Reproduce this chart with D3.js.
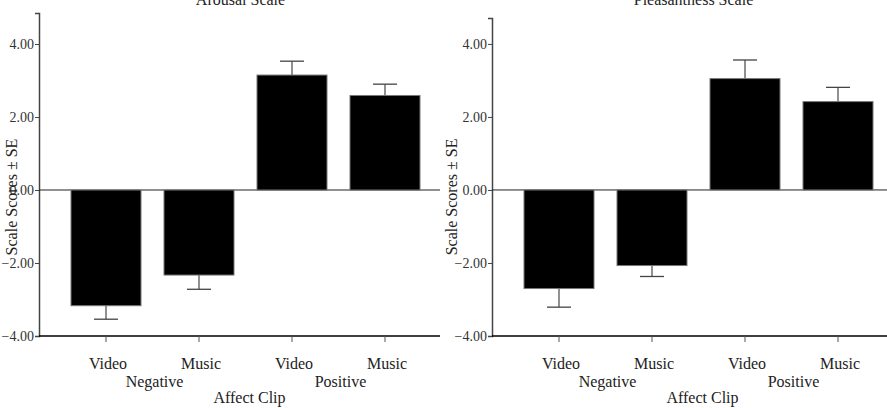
<!DOCTYPE html>
<html>
<head>
<meta charset="utf-8">
<script src="https://cdn.jsdelivr.net/npm/d3@7"></script>
<style>
  body { margin: 0; background: #fff; }
  svg { display: block; font-family: 'Liberation Serif', 'Times New Roman', serif; }
</style>
</head>
<body>
<svg id="chart" width="887" height="408"></svg>
<script>
// conditions, in plotting order
const conditions = ['Negative Video', 'Negative Music', 'Positive Video', 'Positive Music']
const clipLabels = ['Video', 'Music', 'Video', 'Music']
const groupLabels = ['Negative', 'Positive']
const yTicks = [-4, -2, 0, 2, 4]

// Arousal scale (mean, standard error)
const arousalMeans = [-3.17, -2.33, 3.15, 2.59]
const arousalSE = [0.37, 0.39, 0.38, 0.31]

// Pleasantness scale
const pleasantMeans = [-2.70, -2.07, 3.05, 2.42]
const pleasantSE = [0.51, 0.30, 0.51, 0.39]

const svg = d3.select('#chart')
const serif = "'Liberation Serif', 'Times New Roman', serif"

const drawPanel = (opts) => {
  const { title, means, ses, left, right, first, last, top, yMax, yLabelX } = opts
  const bottom = 336
  const g = svg.append('g')

  const x = d3.scalePoint().domain(conditions).range([first, last])
  const y = d3.scaleLinear().domain([-4, yMax]).range([bottom, top])
  const barW = 70

  // title (partly cut off at top, like the source)
  g.append('text')
    .attr('x', (first + last) / 2 - 5)
    .attr('y', 5)
    .attr('text-anchor', 'middle')
    .style('font-size', '16px')
    .attr('fill', '#222')
    .text(title)

  // y axis
  const yAxis = g.append('g')
    .attr('transform', `translate(${left},0)`)
    .call(d3.axisLeft(y).tickValues(yTicks).tickFormat(d3.format('.2f')).tickSize(4).tickPadding(1))
    .attr('font-family', serif)
    .attr('font-size', 14)
  yAxis.select('.domain').attr('stroke', '#444').attr('stroke-width', 1.5)
  yAxis.selectAll('.tick line').attr('stroke', '#444')
  yAxis.selectAll('.tick text').attr('fill', '#333')

  // x axis line at bottom
  g.append('line')
    .attr('x1', left).attr('x2', right)
    .attr('y1', bottom).attr('y2', bottom)
    .attr('stroke', '#000').attr('stroke-width', 1.5)
  g.selectAll('.xtick')
    .data(conditions)
    .join('line')
    .attr('x1', (d) => x(d)).attr('x2', (d) => x(d))
    .attr('y1', bottom).attr('y2', bottom + 6)
    .attr('stroke', '#555')

  // zero line
  g.append('line')
    .attr('x1', left).attr('x2', right)
    .attr('y1', y(0)).attr('y2', y(0))
    .attr('stroke', '#222').attr('stroke-width', 1)

  const data = conditions.map((c, i) => ({ c, mean: means[i], se: ses[i] }))

  // error bars (one-sided, away from zero)
  const errTip = (d) => d.mean < 0 ? d.mean - d.se : d.mean + d.se
  g.selectAll('.err')
    .data(data)
    .join('line')
    .attr('x1', (d) => x(d.c)).attr('x2', (d) => x(d.c))
    .attr('y1', (d) => y(d.mean)).attr('y2', (d) => y(errTip(d)))
    .attr('stroke', '#555').attr('stroke-width', 1.3)
  g.selectAll('.cap')
    .data(data)
    .join('line')
    .attr('x1', (d) => x(d.c) - 12).attr('x2', (d) => x(d.c) + 12)
    .attr('y1', (d) => y(errTip(d))).attr('y2', (d) => y(errTip(d)))
    .attr('stroke', '#444').attr('stroke-width', 1.3)

  // bars
  g.selectAll('.bar')
    .data(data)
    .join('rect')
    .attr('x', (d) => x(d.c) - barW / 2)
    .attr('width', barW)
    .attr('y', (d) => y(Math.max(0, d.mean)))
    .attr('height', (d) => Math.abs(y(d.mean) - y(0)))
    .attr('fill', '#000')
    .attr('stroke', '#777')
    .attr('stroke-width', 1)

  // category labels
  g.selectAll('.clip')
    .data(conditions)
    .join('text')
    .attr('x', (d) => x(d) + 2)
    .attr('y', 369)
    .attr('text-anchor', 'middle')
    .style('font-size', '16px')
    .attr('fill', '#222')
    .text((d, i) => clipLabels[i])

  g.selectAll('.group')
    .data(groupLabels)
    .join('text')
    .attr('x', (d, i) => (x(conditions[i * 2]) + x(conditions[i * 2 + 1])) / 2 + 2)
    .attr('y', 387)
    .attr('text-anchor', 'middle')
    .style('font-size', '16px')
    .attr('fill', '#222')
    .text((d) => d)

  g.append('text')
    .attr('x', (first + last) / 2 + 4)
    .attr('y', 403)
    .attr('text-anchor', 'middle')
    .style('font-size', '16px')
    .attr('fill', '#222')
    .text('Affect Clip')

  // y axis label
  g.append('text')
    .attr('transform', `translate(${yLabelX},${y(0) + 7}) rotate(-90)`)
    .attr('text-anchor', 'middle')
    .style('font-size', '16px')
    .attr('fill', '#222')
    .text('Scale Scores ± SE')
}

drawPanel({
  title: 'Arousal Scale', means: arousalMeans, ses: arousalSE,
  left: 39, right: 440, first: 106, last: 385, top: 13, yMax: 4.85, yLabelX: 17,
})
drawPanel({
  title: 'Pleasantness Scale', means: pleasantMeans, ses: pleasantSE,
  left: 492, right: 887, first: 559, last: 838, top: 18, yMax: 4.71, yLabelX: 457,
})
</script>
</body>
</html>
